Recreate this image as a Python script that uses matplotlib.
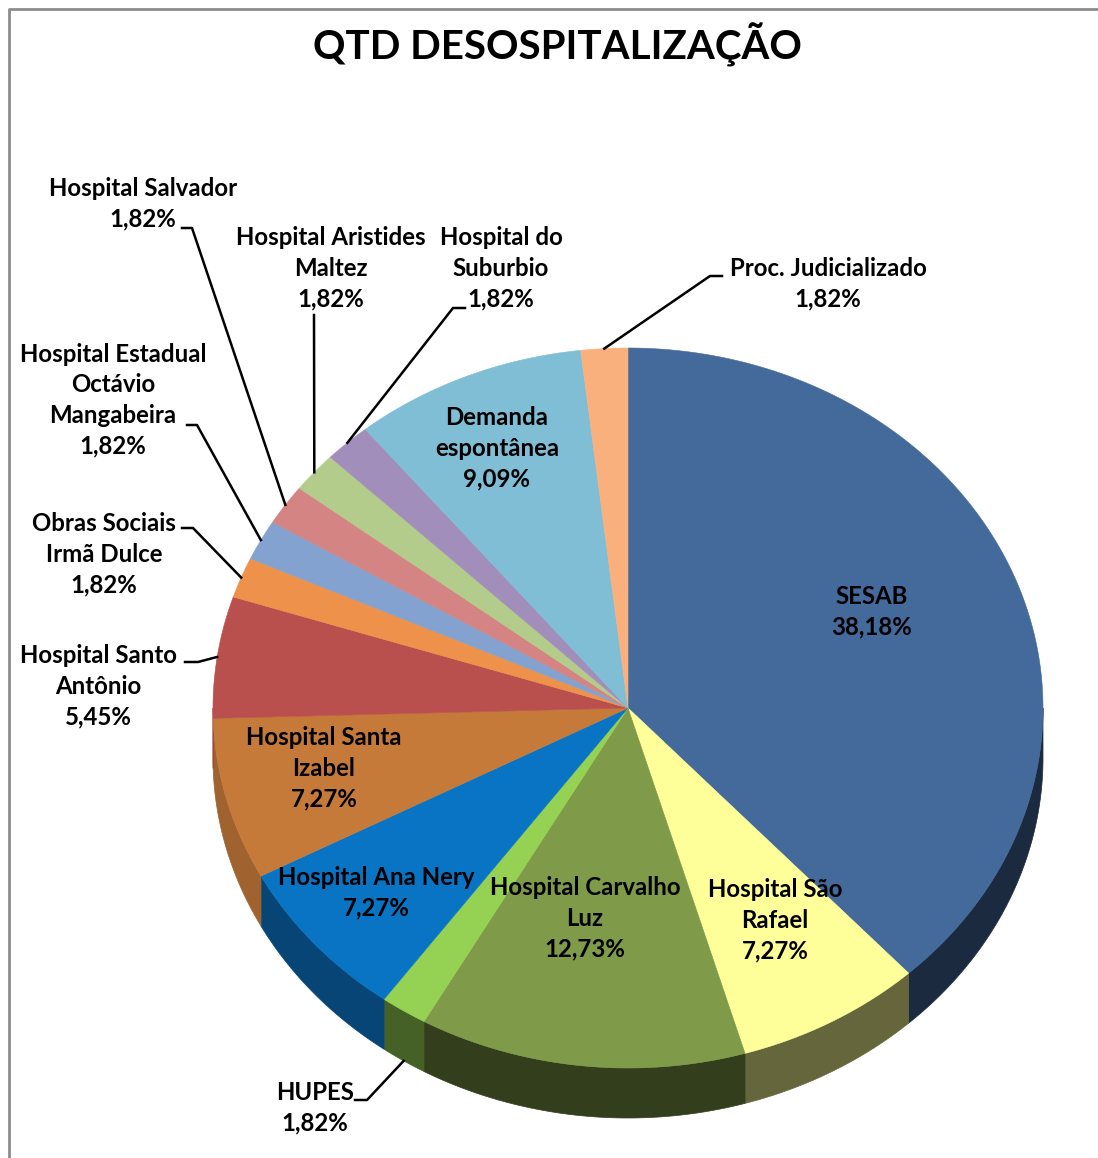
import numpy as np
import matplotlib.pyplot as plt
from matplotlib.patches import Polygon
from matplotlib.colors import to_rgb

W, H = 1098, 1158

# slices, clockwise from 12 o'clock
labels = ["SESAB", "Hospital São\nRafael", "Hospital Carvalho\nLuz", "HUPES",
          "Hospital Ana Nery", "Hospital Santa\nIzabel", "Hospital Santo\nAntônio",
          "Obras Sociais\nIrmã Dulce", "Hospital Estadual\nOctávio\nMangabeira",
          "Hospital Salvador", "Hospital Aristides\nMaltez", "Hospital do\nSuburbio",
          "Demanda\nespontânea", "Proc. Judicializado"]
shares = [38.18, 7.27, 12.73, 1.82, 7.27, 7.27, 5.45, 1.82, 1.82, 1.82, 1.82, 1.82, 9.09, 1.82]
colors = ["#436A9A", "#FFFF99", "#7F9A48", "#95D253", "#0A74C4", "#C57A3A", "#B9504E",
          "#EE914A", "#84A2CF", "#D38483", "#B3CB8B", "#A28EBA", "#7FBED4", "#FAB07D"]

# label centres (pixels) and leader line elbows (x_start, x_elbow, y) for outside labels
label_pos = [(872, 612), (775, 920), (585, 918), (315, 1108), (376, 893), (324, 768),
             (98, 686), (104, 554), (113, 400), (143, 204), (331, 268), (501, 268),
             (497, 448), (828, 284)]
elbows = {3: (355, 367, 1100), 6: (185, 198, 662), 7: (182, 193, 528), 8: (187, 197, 425),
          9: (182, 192, 228), 10: (314, 314, 315), 11: (465, 453, 308), 13: (722, 710, 276)}

CX, CY, RX, RY, DEPTH = 628, 708, 415, 360, 50
FONT = ["Lato", "DejaVu Sans"]


def rim(t):
    t = np.radians(t)
    return CX + RX * np.sin(t), CY - RY * np.cos(t)


def shade(t):
    # wall lighting: dark on the right/front, lighter toward the left
    return 0.4 + 0.45 * np.clip((t - 205) / 55, 0, 1)


fig = plt.figure(figsize=(W / 100, H / 100), dpi=100)
ax = fig.add_axes([0, 0, 1, 1])
ax.set_xlim(0, W); ax.set_ylim(H, 0); ax.axis("off")

# chart frame (cropped on right/bottom)
ax.plot([9, 9, W + 5], [H + 5, 9, 9], color="#8C8C8C", lw=2, solid_capstyle="butt")

ends = np.cumsum(shares) / sum(shares) * 360
starts = np.concatenate([[0], ends[:-1]])

# side walls (front half only)
for a0, a1, c in zip(starts, ends, colors):
    lo, hi = max(a0, 90), min(a1, 270)
    if lo >= hi:
        continue
    ts = np.linspace(lo, hi, max(3, int(hi - lo) * 2))
    x, y = rim(ts)
    pts = np.column_stack([np.r_[x, x[::-1]], np.r_[y, y[::-1] + DEPTH]])
    col = np.array(to_rgb(c)) * shade((lo + hi) / 2)
    ax.add_patch(Polygon(pts, closed=True, fc=col, ec=col, lw=0.5))

# top face
for a0, a1, c in zip(starts, ends, colors):
    ts = np.linspace(a0, a1, max(3, int(a1 - a0) * 2))
    x, y = rim(ts)
    pts = np.column_stack([np.r_[CX, x], np.r_[CY, y]])
    ax.add_patch(Polygon(pts, closed=True, fc=c, ec=c, lw=0.4))

# labels + leader lines
for i, (lab, v) in enumerate(zip(labels, shares)):
    txt = lab + "\n" + f"{v:.2f}%".replace(".", ",")
    tx, ty = label_pos[i]
    ax.text(tx, ty, txt, ha="center", va="center", fontsize=17.3, fontweight="bold",
            family=FONT, linespacing=1.40, color="black")
    if i in elbows:
        xs, xe, ye = elbows[i]
        mid = (starts[i] + ends[i]) / 2
        px, py = rim(mid)
        if 90 < mid < 270:
            py = py + DEPTH
        ax.plot([xs, xe, px], [ye, ye, py], color="black", lw=1.8)

ax.text(557, 45, "QTD DESOSPITALIZAÇÃO", ha="center", va="center", fontsize=29,
        fontweight="bold", family=FONT)

fig.savefig("out.png", dpi=100)
